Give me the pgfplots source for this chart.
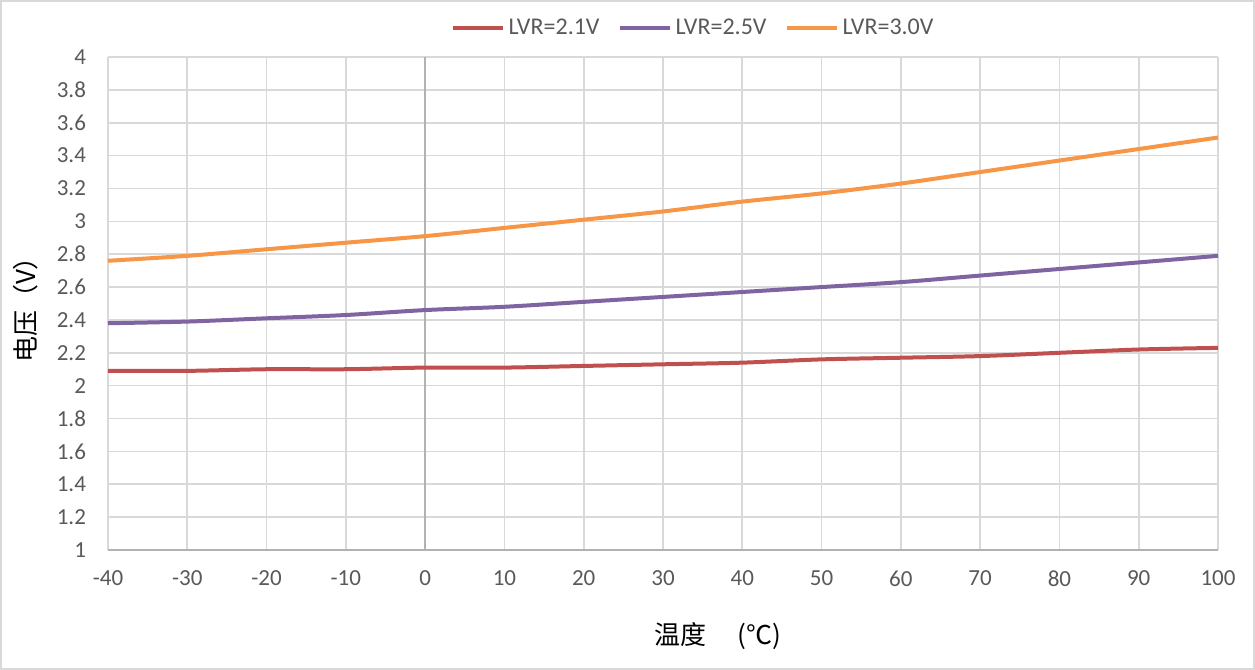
\documentclass[border=0pt]{standalone}
\usepackage{fontspec}
\setmainfont{Carlito}
\newfontfamily\cjk{Noto Sans CJK SC}
\usepackage{pgfplots}
\pgfplotsset{compat=1.18}
\definecolor{cred}{HTML}{C0504D}
\definecolor{cpur}{HTML}{8064A2}
\definecolor{cora}{HTML}{F79646}
\definecolor{gridc}{HTML}{D9D9D9}
\definecolor{txt}{HTML}{595959}
\begin{document}
\begin{tikzpicture}
\path[use as bounding box] (0,0) rectangle (627.5pt,335pt);
\draw[gridc,line width=0.8pt] (0.5pt,0.5pt) rectangle (627pt,334.5pt);
\begin{axis}[
  at={(54pt,60pt)}, anchor=south west,
  scale only axis, width=555pt, height=246.5pt,
  xmin=-40, xmax=100, ymin=1, ymax=4,
  xtick={-40,-30,...,100}, ytick={1,1.2,...,4.01},
  yticklabel style={/pgf/number format/fixed,/pgf/number format/precision=1},
  /pgf/number format/assume math mode=true,
  tick label style={font=\fontsize{11.5}{13}\selectfont, text=txt},
  yticklabel style={xshift=-7.5pt},
  xticklabel style={yshift=-7pt},
  major tick length=0pt,
  grid=major, major grid style={gridc, line width=0.8pt},
  axis line style={draw=none},
  clip=false,
  legend style={at={(axis description cs:0.528,1.0588)}, anchor=center, draw=none, fill=none,
     font=\fontsize{12}{14}\selectfont, text=txt, /tikz/every even column/.append style={column sep=7pt}},
  legend columns=3,
  legend image code/.code={\draw[#1, line width=2pt] (0pt,0pt) -- (25pt,0pt);},
  xlabel={\cjk 温度\hspace{1.2em}(℃)},
  ylabel={\cjk 电压（V）},
  xlabel style={font=\fontsize{13}{15}\selectfont, at={(axis description cs:0.5495,-0.1744)}, anchor=center},
  ylabel style={font=\fontsize{13}{15}\selectfont, at={(axis description cs:-0.0739,0.5)}, anchor=center},
]
\draw[gray!60, line width=0.8pt] (axis cs:-40,1) -- (axis cs:100,1);
\draw[gray!60, line width=0.8pt] (axis cs:0,1) -- (axis cs:0,4);
\addplot[cred, line width=2pt, smooth] coordinates {
(-40,2.09) (-30,2.09) (-20,2.10) (-10,2.10) (0,2.11) (10,2.11) (20,2.12) (30,2.13)
(40,2.14) (50,2.16) (60,2.17) (70,2.18) (80,2.20) (90,2.22) (100,2.23)};
\addlegendentry{LVR=2.1V}
\addplot[cpur, line width=2pt, smooth] coordinates {
(-40,2.38) (-30,2.39) (-20,2.41) (-10,2.43) (0,2.46) (10,2.48) (20,2.51) (30,2.54)
(40,2.57) (50,2.60) (60,2.63) (70,2.67) (80,2.71) (90,2.75) (100,2.79)};
\addlegendentry{LVR=2.5V}
\addplot[cora, line width=2pt, smooth] coordinates {
(-40,2.76) (-30,2.79) (-20,2.83) (-10,2.87) (0,2.91) (10,2.96) (20,3.01) (30,3.06)
(40,3.12) (50,3.17) (60,3.23) (70,3.30) (80,3.37) (90,3.44) (100,3.51)};
\addlegendentry{LVR=3.0V}
\end{axis}
\end{tikzpicture}
\end{document}
